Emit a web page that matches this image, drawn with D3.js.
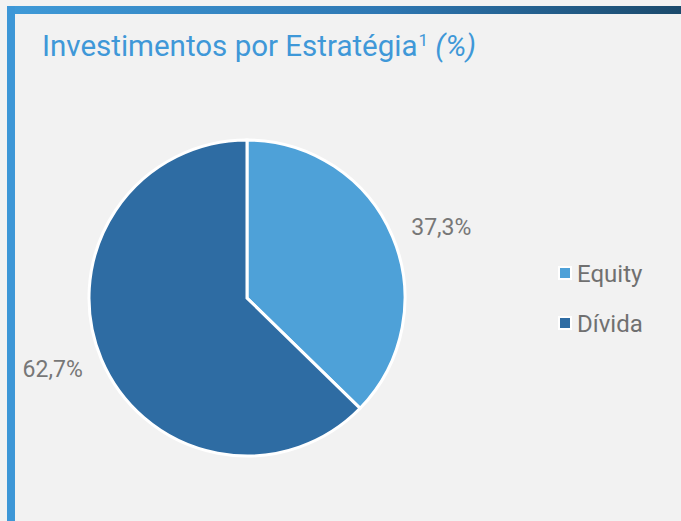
<!DOCTYPE html>
<html>
<head>
<meta charset="utf-8">
<script src="https://cdn.jsdelivr.net/npm/d3@7"></script>
<style>
  html, body { margin: 0; padding: 0; background: #f2f2f2; }
  svg { display: block; font-family: Roboto, "Noto Sans", sans-serif; }
</style>
</head>
<body>
<svg id="chart" width="681" height="521"></svg>
<script>
// chart data
const categories = ['Equity', 'Dívida'];
const values = [37.3, 62.7];
const valueLabels = ['37,3%', '62,7%'];
const colors = ['#4ea1d8', '#2e6ca3'];

const W = 681, H = 521;
const svg = d3.select('#chart');

// frame: gradient top bar + left bar
const defs = svg.append('defs');
const grad = defs.append('linearGradient').attr('id', 'topgrad')
  .attr('x1', '0%').attr('x2', '100%');
grad.append('stop').attr('offset', '0%').attr('stop-color', '#3f9ad8');
grad.append('stop').attr('offset', '55%').attr('stop-color', '#2e78b4');
grad.append('stop').attr('offset', '100%').attr('stop-color', '#1b4a6c');

svg.append('rect').attr('width', W).attr('height', H).attr('fill', '#f2f2f2');
svg.append('rect').attr('x', 7).attr('y', 6).attr('width', W - 7).attr('height', 8)
  .attr('fill', 'url(#topgrad)');
svg.append('rect').attr('x', 7).attr('y', 6).attr('width', 8).attr('height', H - 6)
  .attr('fill', '#3d97d7');

// title
const title = svg.append('text').attr('x', 42).attr('y', 56)
  .attr('font-size', 29.5).attr('fill', '#3f98d8');
title.append('tspan').text('Investimentos por Estratégia');
title.append('tspan').text('1').attr('font-size', 17).attr('dy', -10).attr('dx', 1);
title.append('tspan').text(' (%)').attr('font-style', 'italic').attr('dy', 10);

// pie
const cx = 247, cy = 298, r = 158;
const pie = d3.pie().sort(null).value(d => d)(values);
const arc = d3.arc().innerRadius(0).outerRadius(r);
const g = svg.append('g').attr('transform', `translate(${cx},${cy})`);
g.selectAll('path').data(pie).join('path')
  .attr('d', arc)
  .attr('fill', (d, i) => colors[i])
  .attr('stroke', '#ffffff').attr('stroke-width', 3);

// value labels outside slices (centred a little past each slice's mid angle)
const labelR = r + 49, labelShift = 0.047;
g.selectAll('text.val').data(pie).join('text')
  .attr('class', 'val')
  .attr('transform', d => {
    const [x, y] = d3.pointRadial((d.startAngle + d.endAngle) / 2 + labelShift, labelR);
    return `translate(${x},${y + 8})`;
  })
  .attr('text-anchor', 'middle')
  .attr('font-size', 23).attr('fill', '#777777')
  .text((d, i) => valueLabels[i]);

// legend
const legend = svg.append('g').attr('transform', 'translate(559,273)');
const items = legend.selectAll('g').data(categories).join('g')
  .attr('transform', (d, i) => `translate(0,${i * 50})`);
items.append('rect').attr('x', 0).attr('y', -6).attr('width', 12).attr('height', 12)
  .attr('fill', (d, i) => colors[i]).attr('stroke', '#ffffff').attr('stroke-width', 2);
items.append('text').attr('x', 18).attr('y', 8.5)
  .attr('font-size', 24).attr('fill', '#707070').text(d => d);
</script>
</body>
</html>
